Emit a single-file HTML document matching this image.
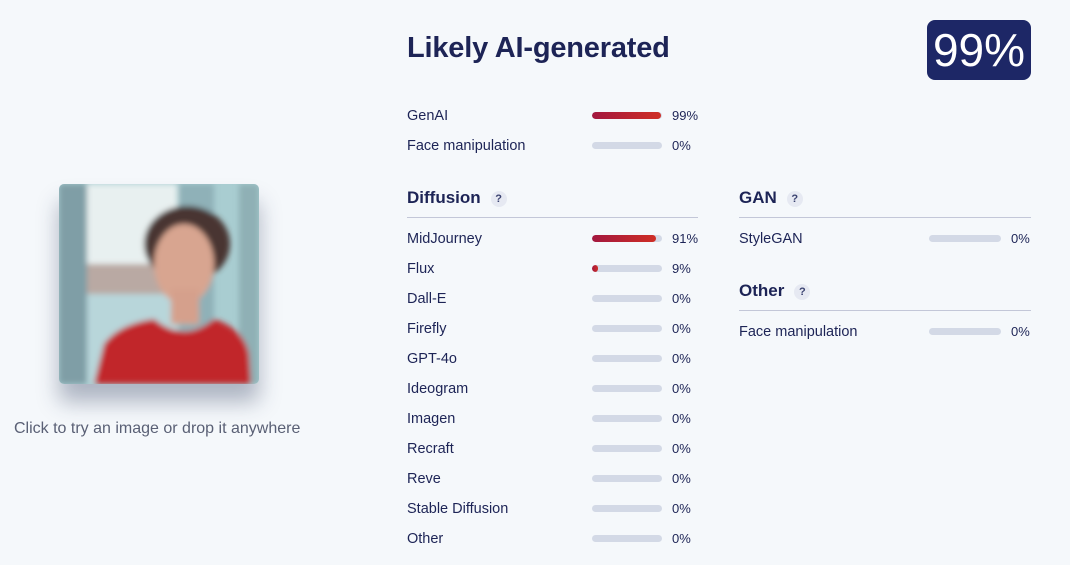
<!DOCTYPE html>
<html><head><style>
body{margin:0;width:1070px;height:565px;background:#f5f8fb;font-family:"Liberation Sans",sans-serif;color:#1d2456;position:relative;overflow:hidden}
.a{position:absolute;white-space:nowrap}
.l{font-size:14.5px;line-height:18px}
.bar{position:absolute;height:7px;border-radius:4px;background:#d3d9e6;overflow:hidden}
.fill{height:100%;background:linear-gradient(90deg,#a3183f,#cf2e25);border-radius:4px}
.h{font-size:17px;font-weight:bold;line-height:20px}
.q{display:inline-block;width:16px;height:16px;border-radius:8px;background:#e6e9f2;font-size:11px;text-align:center;line-height:16px;margin-left:10px;vertical-align:1px;color:#3a4270}
.hr{position:absolute;height:1px;background:#c3c7d8}
</style></head><body>
<div class="a" style="left:59px;top:184px;width:200px;height:200px;border-radius:5px;overflow:hidden;box-shadow:0 18px 22px rgba(40,55,90,0.35)">
<svg width="200" height="200">
<defs><filter id="b"><feGaussianBlur stdDeviation="3"/></filter></defs>
<rect width="200" height="200" fill="#a9cdd1"/>
<g filter="url(#b)">
<rect x="0" y="0" width="28" height="200" fill="#7f9ea6"/>
<rect x="28" y="0" width="90" height="80" fill="#e8f0f0"/>
<rect x="28" y="80" width="90" height="30" fill="#b9a9a3"/>
<rect x="28" y="110" width="90" height="90" fill="#b8d6da"/>
<rect x="120" y="0" width="35" height="200" fill="#8fb1b8"/>
<rect x="180" y="0" width="20" height="200" fill="#8fb0b5"/>
<ellipse cx="128" cy="60" rx="43" ry="38" fill="#4a3530"/>
<ellipse cx="125" cy="80" rx="30" ry="40" fill="#d8a590"/>
<rect x="112" y="105" width="28" height="35" fill="#d5a08c"/>
<path d="M35 200 L45 160 Q60 140 95 135 Q125 160 155 135 Q185 145 190 170 L192 200Z" fill="#c1272a"/>
</g>
</svg></div>
<div class="a" style="left:14px;top:420px;font-size:16px;color:#5a6075">Click to try an image or drop it anywhere</div>

<div class="a" style="left:407px;top:32px;font-size:29px;font-weight:bold;letter-spacing:-0.2px">Likely AI-generated</div>
<div class="a" style="left:927px;top:20px;width:104px;height:60px;border-radius:8px;background:#1d2766;color:#fff;font-size:46px;text-align:center;line-height:60px">99%</div>

<div class="a l" style="left:407px;top:107px">GenAI</div>
<div class="bar" style="left:592px;top:112px;width:70px"><div class="fill" style="width:99%"></div></div>
<div class="a l" style="left:672px;top:107px;font-size:13px">99%</div>
<div class="a l" style="left:407px;top:137px">Face manipulation</div>
<div class="bar" style="left:592px;top:142px;width:70px"></div>
<div class="a l" style="left:672px;top:137px;font-size:13px">0%</div>

<div class="a h" style="left:407px;top:188px">Diffusion<span class="q">?</span></div>
<div class="hr" style="left:407px;top:217px;width:291px"></div>
<div class="a h" style="left:739px;top:188px">GAN<span class="q">?</span></div>
<div class="hr" style="left:739px;top:217px;width:292px"></div>
<div class="a h" style="left:739px;top:281px">Other<span class="q">?</span></div>
<div class="hr" style="left:739px;top:310px;width:292px"></div>

<div id="rows"></div>
<script>
var d=[["MidJourney",91],["Flux",9],["Dall-E",0],["Firefly",0],["GPT-4o",0],["Ideogram",0],["Imagen",0],["Recraft",0],["Reve",0],["Stable Diffusion",0],["Other",0]];
var h="";
d.forEach(function(r,i){var y=230+i*30;
h+='<div class="a l" style="left:407px;top:'+y+'px">'+r[0]+'</div><div class="bar" style="left:592px;top:'+(y+5)+'px;width:70px"><div class="fill" style="width:'+r[1]+'%"></div></div><div class="a l" style="left:672px;top:'+y+'px;font-size:13px">'+r[1]+'%</div>';});
[["StyleGAN",230],["Face manipulation",323]].forEach(function(r){var y=r[1];
h+='<div class="a l" style="left:739px;top:'+y+'px">'+r[0]+'</div><div class="bar" style="left:929px;top:'+(y+5)+'px;width:72px"></div><div class="a l" style="left:1011px;top:'+y+'px;font-size:13px">0%</div>';});
document.getElementById("rows").innerHTML=h;
</script>
</body></html>
